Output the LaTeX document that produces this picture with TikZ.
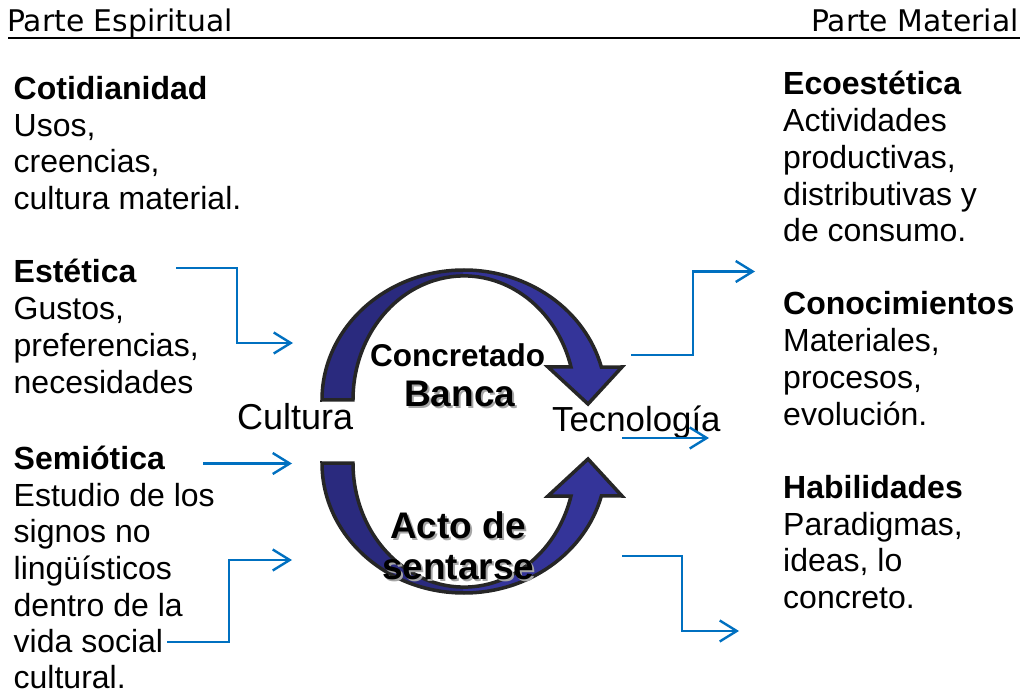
\documentclass[tikz,border=0pt]{standalone}
\usepackage{fontspec}
\setmainfont{Liberation Sans}
\newfontfamily\headfont{DejaVu Sans}
\usetikzlibrary{arrows.meta}
\definecolor{conblue}{HTML}{0070C0}
\definecolor{bandlight}{HTML}{343499}
\definecolor{banddark}{HTML}{2A2A7E}
\definecolor{bandedge}{HTML}{262626}
\definecolor{shadowgray}{HTML}{A6A6A6}
\tikzset{
  x=1pt, y=1pt,
  body/.style={font=\fontsize{32}{36}\selectfont, anchor=base west, inner sep=0pt},
  head/.style={font=\bfseries\fontsize{32}{36}\selectfont, anchor=base west, inner sep=0pt},
  headtxt/.style={font=\headfont\fontsize{29.8}{34}\selectfont, inner sep=0pt},
  mid/.style={font=\fontsize{36}{40}\selectfont, anchor=base west, inner sep=0pt},
  midbold/.style={font=\bfseries\fontsize{37}{40}\selectfont, anchor=base west, inner sep=0pt},
  shadowed/.style={midbold, text=shadowgray},
  conn/.style={draw=conblue, line width=2.4pt, line join=miter, -{Straight Barb[length=17pt,width=21pt]}},
  band/.pic={
    \fill[bandlight] (322,-400) arc[start angle=180,end angle=14.7,x radius=142,y radius=130]
      -- (622,-367) -- (588,-404) -- (548,-367) -- (571,-367)
      arc[start angle=15.4,end angle=180,x radius=111,y radius=124] -- cycle;
    \begin{scope}
      \clip (300,-250) rectangle (463,-420);
      \fill[banddark] (322,-400) arc[start angle=180,end angle=14.7,x radius=142,y radius=130]
        -- (622,-367) -- (588,-404) -- (548,-367) -- (571,-367)
        arc[start angle=15.4,end angle=180,x radius=111,y radius=124] -- cycle;
    \end{scope}
    \draw[bandedge, line width=3.5pt, line join=miter] (322,-400) arc[start angle=180,end angle=14.7,x radius=142,y radius=130]
      -- (622,-367) -- (588,-404) -- (548,-367) -- (571,-367)
      arc[start angle=15.4,end angle=180,x radius=111,y radius=124] -- cycle;
  }
}
\begin{document}
\begin{tikzpicture}
\useasboundingbox (0,0) rectangle (1023,-692);
% header
\node[headtxt, anchor=base west] (hl) at (7,-32) {Parte Espiritual};
\node[headtxt, anchor=base east] (hr) at (1019,-32) {Parte Material};
\coordinate (ul1) at (8,-38);
\coordinate (ul2) at (1020,-38);
\draw[line width=2pt] (ul1) -- (ul2);
% curved arrows
\pic (bandtop) at (0,0) {band};
\pic[yscale=-1] (bandbot) at (0,-863) {band};
% left column
\node[head] (cot0) at (13.5,-99.5) {Cotidianidad};
\node[body] (cot1) at (13.5,-136.2) {Usos,};
\node[body] (cot2) at (13.5,-172.9) {creencias,};
\node[body] (cot3) at (13.5,-209.6) {cultura material.};
\node[head] (est0) at (13.5,-283) {Estética};
\node[body] (est1) at (13.5,-319.7) {Gustos,};
\node[body] (est2) at (13.5,-356.4) {preferencias,};
\node[body] (est3) at (13.5,-393.1) {necesidades};
\node[head] (sem0) at (13.5,-469.3) {Semiótica};
\node[body] (sem1) at (13.5,-506) {Estudio de los};
\node[body] (sem2) at (13.5,-542.7) {signos no};
\node[body] (sem3) at (13.5,-579.4) {lingüísticos};
\node[body] (sem4) at (13.5,-616.1) {dentro de la};
\node[body] (sem5) at (13.5,-652.8) {vida social};
\node[body] (sem6) at (13.5,-688) {cultural.};
% right column
\node[head] (eco0) at (783,-95) {Ecoestética};
\node[body] (eco1) at (783,-131.7) {Actividades};
\node[body] (eco2) at (783,-168.4) {productivas,};
\node[body] (eco3) at (783,-205.1) {distributivas y};
\node[body] (eco4) at (783,-241.8) {de consumo.};
\node[head] (con0) at (783,-315) {Conocimientos};
\node[body] (con1) at (783,-351.7) {Materiales,};
\node[body] (con2) at (783,-388.4) {procesos,};
\node[body] (con3) at (783,-425.1) {evolución.};
\node[head] (hab0) at (783,-498.3) {Habilidades};
\node[body] (hab1) at (783,-535) {Paradigmas,};
\node[body] (hab2) at (783,-571.7) {ideas, lo};
\node[body] (hab3) at (783,-608.4) {concreto.};
% centre
\node[mid] (cultura) at (237,-430) {Cultura};
\node[mid, font=\fontsize{34.8}{38}\selectfont] (tecno) at (552,-431.5) {Tecnología};
\node[midbold, font=\bfseries\fontsize{31.5}{36}\selectfont] (concretado) at (370,-366.7) {Concretado};
\node[shadowed] (bancash) at (406,-408.7) {Banca};
\node[midbold] (banca) at (404,-406.7) {Banca};
\node[shadowed] (actosh) at (392,-540.3) {Acto de};
\node[midbold] (acto) at (390,-538.3) {Acto de};
\node[shadowed] (sentsh) at (384,-581) {sentarse};
\node[midbold] (sent) at (382,-579) {sentarse};
% connectors
\coordinate (e1a) at (176,-268);
\coordinate (e1b) at (293,-343);
\coordinate (s1a) at (203,-463.5);
\coordinate (s1b) at (292,-463.5);
\coordinate (s2a) at (167,-642);
\coordinate (s2b) at (292,-560);
\coordinate (t1a) at (631,-355);
\coordinate (t1b) at (755,-271.5);
\coordinate (t2a) at (622,-438);
\coordinate (t2b) at (709,-438);
\coordinate (t3a) at (622,-556);
\coordinate (t3b) at (739,-631);
\draw[conn] (e1a) -- ++(61,0) |- (e1b);
\draw[conn] (s1a) -- (s1b);
\draw[conn] (s2a) -- ++(62,0) |- (s2b);
\draw[conn] (t1a) -- ++(62,0) |- (t1b);
\draw[conn] (t2a) -- (t2b);
\draw[conn] (t3a) -- ++(60,0) |- (t3b);
\end{tikzpicture}
\end{document}
